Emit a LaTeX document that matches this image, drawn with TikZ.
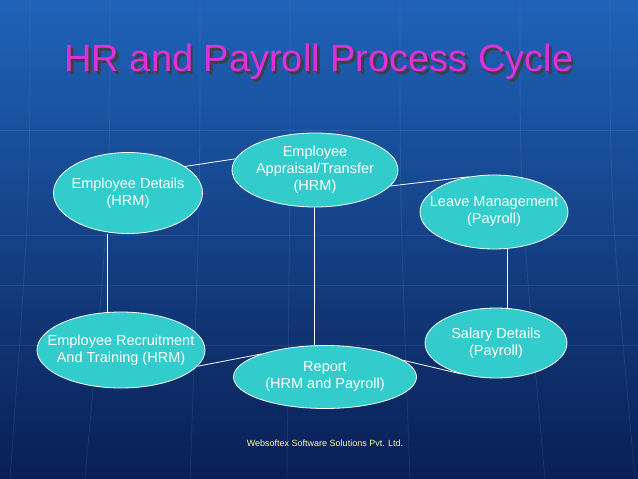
\documentclass[tikz,border=0pt]{standalone}
\usepackage{fontspec}
\setmainfont{Liberation Sans}
\usetikzlibrary{shapes.geometric}
\definecolor{topblue}{HTML}{1F63B8}
\definecolor{botblue}{HTML}{0A1F55}
\definecolor{ellfill}{HTML}{33CCCC}
\definecolor{titlec}{HTML}{E030DC}
\tikzset{
  ell/.style={ellipse, draw=white, line width=0.8pt, fill=ellfill, inner sep=0pt},
  lab/.style={font=\fontsize{14.5}{17}\selectfont, text=white, align=center},
  conn/.style={draw=white, line width=0.8pt},
  grid/.style={draw=white, opacity=0.08, line width=0.8pt}
}
\begin{document}
\begin{tikzpicture}[x=1pt,y=-1pt]
\shade[top color=topblue, bottom color=botblue] (0,0) rectangle (638,479);
\useasboundingbox (0,0) rectangle (638,479);
\foreach \y in {130,235,285,345} \draw[grid] (0,\y) -- (638,\y);
\foreach \x/\b in {30/10,110/85,200/190,290/287,400/410,520/545,610/635} \draw[grid] (\x,0) .. controls (\x,200) .. (\b,479);
% title
\node[font=\fontsize{38}{44}\selectfont, text=black!75] at (321.5,64.5) {HR and Payroll Process Cycle};
\node[font=\fontsize{38}{44}\selectfont, text=titlec] (title) at (319,62) {HR and Payroll Process Cycle};
% nodes
\node[ell, minimum width=149, minimum height=81, label={[lab]center:Employee Details\\(HRM)}] (ed) at (128,193) {};
\node[ell, minimum width=166, minimum height=74, label={[lab]center:Employee\\Appraisal/Transfer\\(HRM)}] (ap) at (315,170) {};
\node[ell, minimum width=148, minimum height=74, label={[lab]center:Leave Management\\(Payroll)}] (lm) at (494,212) {};
\node[ell, minimum width=142, minimum height=70, label={[lab]center:Salary Details\\(Payroll)}] (sd) at (496,343) {};
\node[ell, minimum width=183, minimum height=63, label={[lab]center:Report\\(HRM and Payroll)}] (rp) at (325,377) {};
\node[ell, minimum width=168, minimum height=76, label={[lab]center:Employee Recruitment\\And Training (HRM)}] (rt) at (121,350) {};
% connectors
\draw[conn] (ed.25) -- (ap.172);
\draw[conn] (ap.-12) -- (lm.125);
\draw[conn] (lm.south -| 507,0) -- (sd.north -| 507,0);
\draw[conn] (rp.12) -- (sd.222);
\draw[conn] (rt.-12) -- (rp.160);
\draw[conn] (ed.south -| 107,0) -- (rt.north -| 107,0);
\draw[conn] (ap.south -| 314,0) -- (rp.north -| 314,0);
\node[font=\fontsize{9}{11}\selectfont, text=yellow!40!white] (ft) at (325,443) {Websoftex Software Solutions Pvt. Ltd.};
\end{tikzpicture}
\end{document}
